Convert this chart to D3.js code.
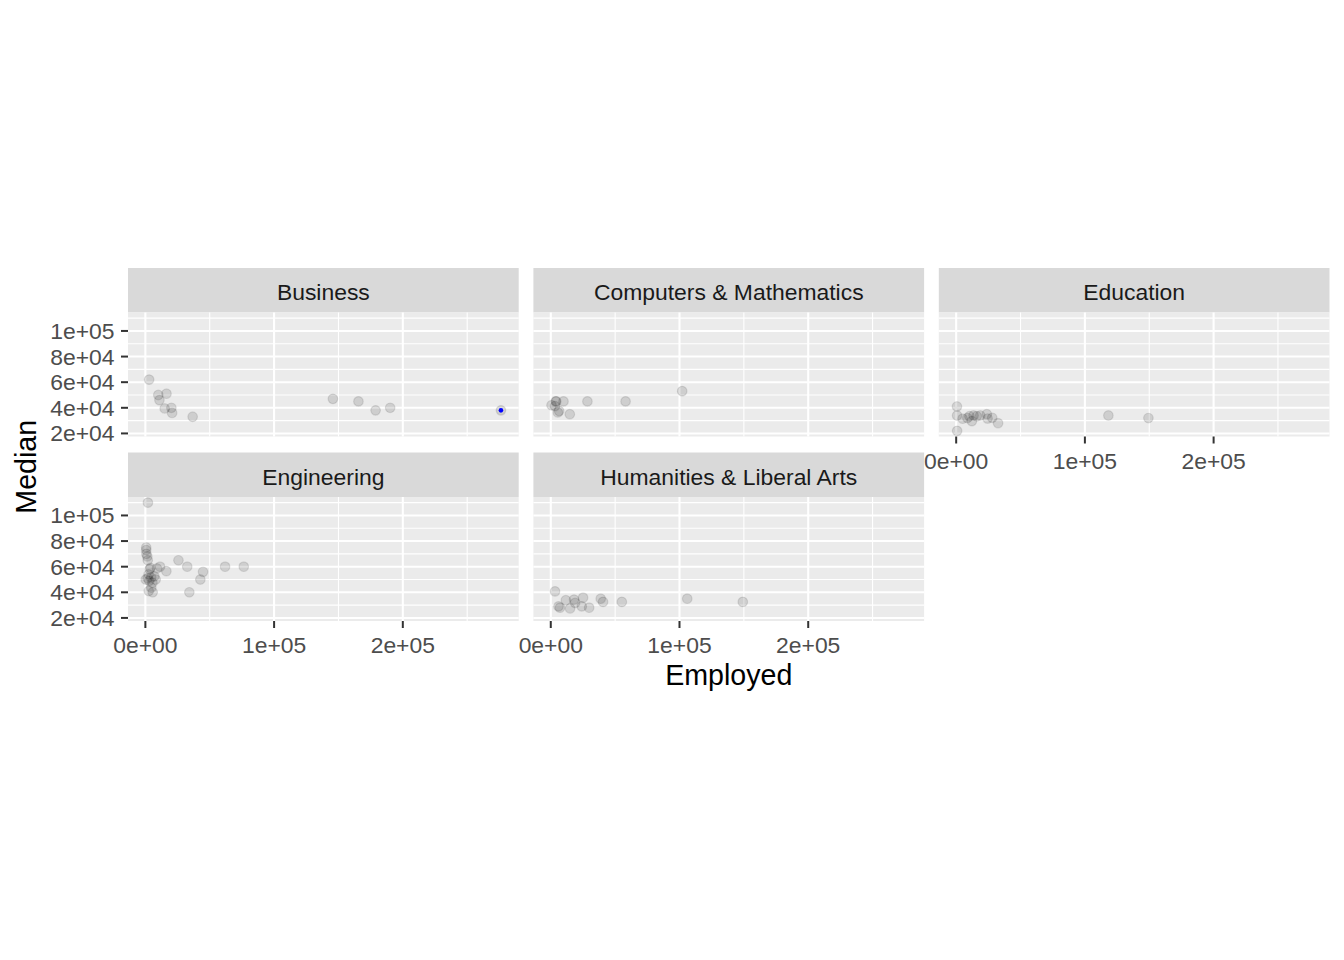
<!DOCTYPE html>
<html>
<head>
<meta charset="utf-8">
<script src="https://cdn.jsdelivr.net/npm/d3@7"></script>
<style>
  html, body { margin: 0; padding: 0; background: #ffffff; }
  svg { display: block; font-family: "Liberation Sans", Arial, Helvetica, sans-serif; }
</style>
</head>
<body>
<svg id="chart" width="1344" height="960"></svg>
<script>
// ---------------- DATA ----------------
const categories = ["Business", "Computers & Mathematics", "Education", "Engineering", "Humanities & Liberal Arts"];

const employedBusiness = [2912, 10027, 16413, 10914, 15000, 20200, 20760, 36728, 145696, 165527, 178862, 190183, 276234];
const medianBusiness   = [62000, 50000, 51000, 46000, 39500, 40000, 36000, 33000, 47000, 45000, 38000, 40000, 38000];

const employedComputers = [559, 3257, 3854, 4247, 9881, 28459, 58118, 102087, 6509, 5500, 14779];
const medianComputers   = [42000, 41300, 45000, 45000, 45000, 45000, 45000, 53000, 37500, 36400, 35000];

const employedEducation = [600, 700, 742, 5000, 8700, 10300, 12200, 13500, 16000, 18700, 23800, 24400, 28000, 32551, 118241, 149339];
const medianEducation   = [41000, 34000, 22000, 31500, 32000, 33400, 29600, 34000, 33400, 34000, 35000, 31600, 32200, 28000, 34000, 32000];

const employedEngineering = [1976, 640, 648, 758, 1500, 1857, 25694, 76442, 61928, 32506, 11391, 4000, 3300, 9000, 16300, 44800, 2500, 7000, 1800, 42700, 8000, 3000, 4500, 300, 5500, 4600, 2600, 5700, 34158];
const medianEngineering   = [110000, 75000, 73000, 70000, 68000, 65000, 65000, 60000, 60000, 60000, 60000, 59000, 58000, 58600, 56500, 56000, 54000, 52500, 51000, 50000, 50000, 49000, 51500, 50000, 47500, 43600, 41000, 40000, 40000];

const employedHumanities = [3300, 6000, 7200, 11700, 15000, 18100, 18900, 25100, 24100, 29800, 38800, 40600, 55200, 106000, 149180];
const medianHumanities   = [40700, 29000, 28000, 33800, 27400, 34300, 31700, 35800, 29000, 28000, 35000, 32500, 32500, 35000, 32500];

const highlightCategory = ["Business"];
const highlightEmployed = [276234];
const highlightMedian   = [38000];

const xTicks = [0, 100000, 200000];
const xTickLabels = ["0e+00", "1e+05", "2e+05"];
const xMinorTicks = [50000, 150000, 250000];
const yTicks = [20000, 40000, 60000, 80000, 100000];
const yTickLabels = ["2e+04", "4e+04", "6e+04", "8e+04", "1e+05"];
const yMinorTicks = [30000, 50000, 70000, 90000, 110000];

const xTitle = "Employed";
const yTitle = "Median";

// ---------------- BUILD ----------------
const employedByCat = [employedBusiness, employedComputers, employedEducation, employedEngineering, employedHumanities];
const medianByCat = [medianBusiness, medianComputers, medianEducation, medianEngineering, medianHumanities];

const points = [];
categories.forEach((c, i) => {
  employedByCat[i].forEach((e, j) => points.push({cat: c, employed: e, median: medianByCat[i][j]}));
});
const highlights = highlightCategory.map((c, i) => ({cat: c, employed: highlightEmployed[i], median: highlightMedian[i]}));

// layout
const ncol = 3;
const panelLeft = 128, panelW = 390.7, gapX = 14.7;
const rowTop = [268, 452.5];
const stripH = 44.5, panelH = 124;

const svg = d3.select("#chart");

function expand(ext) {
  const pad = (ext[1] - ext[0]) * 0.05;
  return [ext[0] - pad, ext[1] + pad];
}
const xDomain = expand(d3.extent(points, d => d.employed));
const yDomain = expand(d3.extent(points, d => d.median));

const x = d3.scaleLinear().domain(xDomain).range([0, panelW]);
const y = d3.scaleLinear().domain(yDomain).range([panelH, 0]);

const fontAxis = 22.9, fontTitle = 28.6;

categories.forEach((cat, i) => {
  const col = i % ncol, row = Math.floor(i / ncol);
  const px = panelLeft + col * (panelW + gapX);
  const sTop = rowTop[row];
  const pTop = sTop + stripH;

  // strip
  svg.append("rect").attr("x", px).attr("y", sTop).attr("width", panelW).attr("height", stripH).attr("fill", "#D9D9D9");
  svg.append("text").attr("x", px + panelW / 2).attr("y", sTop + 32)
    .attr("text-anchor", "middle").attr("font-size", fontAxis).attr("fill", "#1A1A1A").text(cat);

  const g = svg.append("g").attr("transform", `translate(${px},${pTop})`);
  g.append("rect").attr("width", panelW).attr("height", panelH).attr("fill", "#EBEBEB");

  // minor grid
  g.selectAll(".xm").data(xMinorTicks.filter(v => v >= xDomain[0] && v <= xDomain[1])).enter().append("line")
    .attr("x1", d => x(d)).attr("x2", d => x(d)).attr("y1", 0).attr("y2", panelH)
    .attr("stroke", "#fff").attr("stroke-width", 1.1);
  g.selectAll(".ym").data(yMinorTicks.filter(v => v >= yDomain[0] && v <= yDomain[1])).enter().append("line")
    .attr("y1", d => y(d)).attr("y2", d => y(d)).attr("x1", 0).attr("x2", panelW)
    .attr("stroke", "#fff").attr("stroke-width", 1.1);
  // major grid
  g.selectAll(".xM").data(xTicks).enter().append("line")
    .attr("x1", d => x(d)).attr("x2", d => x(d)).attr("y1", 0).attr("y2", panelH)
    .attr("stroke", "#fff").attr("stroke-width", 2.1);
  g.selectAll(".yM").data(yTicks).enter().append("line")
    .attr("y1", d => y(d)).attr("y2", d => y(d)).attr("x1", 0).attr("x2", panelW)
    .attr("stroke", "#fff").attr("stroke-width", 2.1);

  // points
  g.selectAll(".pt").data(points.filter(p => p.cat === cat)).enter().append("circle")
    .attr("cx", d => x(d.employed)).attr("cy", d => y(d.median)).attr("r", 4.8)
    .attr("fill", "#000").attr("fill-opacity", 0.12)
    .attr("stroke", "#000").attr("stroke-opacity", 0.1).attr("stroke-width", 1.2);
  g.selectAll(".hl").data(highlights.filter(p => p.cat === cat)).enter().append("circle")
    .attr("cx", d => x(d.employed)).attr("cy", d => y(d.median)).attr("r", 2.3)
    .attr("fill", "#0000FF");

  // y axis on first column
  if (col === 0) {
    yTicks.forEach((v, k) => {
      g.append("line").attr("x1", -7).attr("x2", 0).attr("y1", y(v)).attr("y2", y(v))
        .attr("stroke", "#333333").attr("stroke-width", 2);
      g.append("text").attr("x", -13.5).attr("y", y(v) + 8).attr("text-anchor", "end")
        .attr("font-size", fontAxis).attr("fill", "#4D4D4D").text(yTickLabels[k]);
    });
  }
  // x axis on the bottom panel of each column
  const isBottom = (i + ncol >= categories.length);
  if (isBottom) {
    xTicks.forEach((v, k) => {
      g.append("line").attr("x1", x(v)).attr("x2", x(v)).attr("y1", panelH).attr("y2", panelH + 7)
        .attr("stroke", "#333333").attr("stroke-width", 2);
      g.append("text").attr("x", x(v)).attr("y", panelH + 32.3).attr("text-anchor", "middle")
        .attr("font-size", fontAxis).attr("fill", "#4D4D4D").text(xTickLabels[k]);
    });
  }
});

// axis titles
const totalRight = panelLeft + ncol * panelW + (ncol - 1) * gapX;
svg.append("text").attr("x", (panelLeft + totalRight) / 2).attr("y", 685)
  .attr("text-anchor", "middle").attr("font-size", fontTitle).attr("fill", "#000").text(xTitle);
const yMid = (rowTop[0] + stripH + rowTop[1] + stripH + panelH) / 2;
svg.append("text").attr("transform", `translate(36,${yMid}) rotate(-90)`)
  .attr("text-anchor", "middle").attr("font-size", fontTitle).attr("fill", "#000").text(yTitle);
</script>
</body>
</html>
